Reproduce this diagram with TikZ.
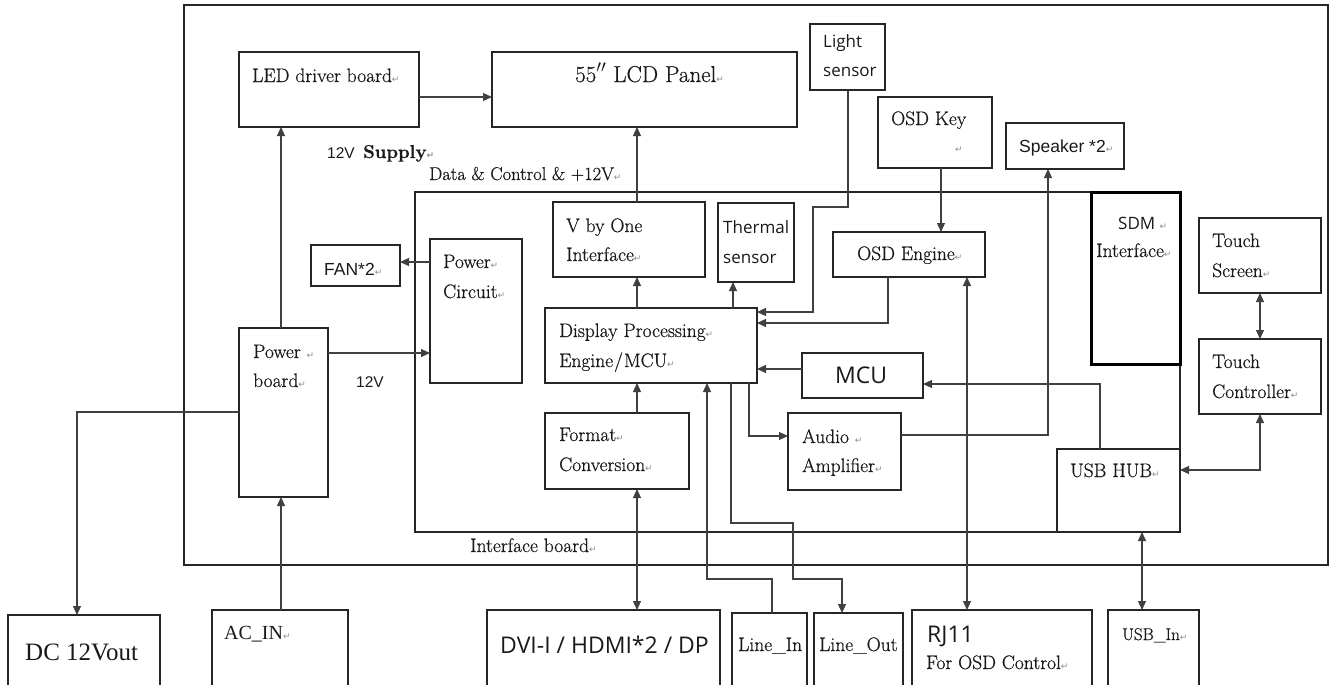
\documentclass[tikz,border=0pt]{standalone}
\usepackage{fontspec}
\setmainfont{Latin Modern Roman}[FakeBold=0.6]
\newfontfamily\osans{Open Sans}
\newfontfamily\lsans{Liberation Sans}
\newfontfamily\lserif{Liberation Serif}
\newfontfamily\dejavu{DejaVu Sans}
\usetikzlibrary{arrows.meta}
\newcommand\rt{{\color{black!45}\dejavu\fontsize{9}{9}\selectfont ↵}}
\newcommand\bx[5]{\node[box, minimum width=#4pt, minimum height=#5pt] (#1) at (#2,#3) {};}
\begin{document}
\begin{tikzpicture}[x=1pt,y=-1pt,
  box/.style={draw=black!85, line width=1.1pt, inner sep=0pt, outer sep=0pt, anchor=north west},
  lnk/.style={draw=black!75, line width=1.1pt},
  arr/.style={lnk, -{Triangle[length=9pt,width=8pt]}},
  darr/.style={lnk, {Triangle[length=9pt,width=8pt]}-{Triangle[length=9pt,width=8pt]}},
  tx/.style={anchor=base west, inner sep=0pt, text=black!90, font=\fontsize{19.5}{24}\selectfont},
  sans/.style={font=\osans\fontsize{17}{20}\selectfont},
  arial/.style={font=\lsans\fontsize{17.5}{20}\selectfont}]
\path[use as bounding box] (0,0) rectangle (1334,685);
\clip (0,0) rectangle (1334,685);
% boxes
\bx{outer}{184}{5}{1144}{560}
\bx{ib}{415}{192}{765}{340}
\bx{led}{239}{52}{180}{75}
\bx{lcd}{492}{52}{305}{75}
\bx{ls}{810}{24}{75}{66}
\bx{ok}{878}{97}{114}{71}
\bx{sp}{1006}{123}{118}{46}
\node[box, line width=3pt, draw=black, minimum width=89pt, minimum height=172pt] (sdm) at (1091,192) {};
\bx{ts}{1199}{218}{122}{75}
\bx{tc}{1199}{339}{122}{75}
\bx{fan}{311}{245}{89}{41}
\bx{pc}{430}{239}{92}{144}
\bx{pb}{239}{328}{89}{169}
\bx{vbo}{553}{202}{152}{75}
\bx{th}{718}{203}{76}{79}
\bx{oe}{833}{232}{152}{45}
\bx{dpe}{545}{308}{212}{75}
\bx{mcu}{802}{353}{121}{45}
\bx{fc}{545}{413}{144}{76}
\bx{aa}{788}{413}{113}{77}
\bx{usb}{1057}{449}{123}{83}
\bx{dc}{8}{615}{152}{85}
\bx{acin}{212}{610}{136}{90}
\bx{dvi}{487}{610}{233}{90}
\bx{li}{732}{613}{75}{87}
\bx{lo}{814}{613}{89}{87}
\bx{rj}{912}{610}{180}{90}
\bx{usbin}{1108}{610}{91}{90}
% connectors
\draw[arr] (led.east |- 0,97) -- (lcd.west |- 0,97);
\draw[arr] (pb.north -| 281,0) -- (led.south -| 281,0);
\draw[arr] (acin.north -| 281,0) -- (pb.south -| 281,0);
\draw[arr] (pb.west |- 0,412) -| (dc.north -| 77,0);
\draw[arr] (pb.east |- 0,353) -- (pc.west |- 0,353);
\draw[arr] (pc.west |- 0,262) -- (fan.east |- 0,262);
\draw[arr] (vbo.north -| 637,0) -- (lcd.south -| 637,0);
\draw[arr] (dpe.north -| 637,0) -- (vbo.south -| 637,0);
\draw[arr] (dpe.north -| 733,0) -- (th.south -| 733,0);
\draw[arr] (ls.south -| 848,0) -- (848,207) -- (813,207) |- (dpe.east |- 0,312);
\draw[arr] (ok.south -| 941,0) -- (oe.north -| 941,0);
\draw[arr] (oe.south -| 888,0) |- (dpe.east |- 0,323);
\draw[darr] (rj.north -| 967,0) -- (oe.south -| 967,0);
\draw[arr] (mcu.west |- 0,369) -- (dpe.east |- 0,369);
\draw[arr] (usb.north -| 1100,0) |- (mcu.east |- 0,384);
\draw[arr] (dpe.south -| 749,0) |- (aa.west |- 0,436);
\draw[arr] (aa.east |- 0,435) -| (sp.south -| 1048,0);
\draw[arr] (fc.north -| 637,0) -- (dpe.south -| 637,0);
\draw[darr] (fc.south -| 637,0) -- (dvi.north -| 637,0);
\draw[arr] (li.north -| 772,0) -- (772,579) -| (dpe.south -| 707,0);
\draw[arr] (dpe.south -| 731,0) -- (731,523) -- (793,523) -- (793,579) -| (lo.north -| 842,0);
\draw[darr] (ts.south -| 1260,0) -- (tc.north -| 1260,0);
\draw[darr] (tc.south -| 1260,0) |- (usb.east |- 0,470);
\draw[darr] (usb.south -| 1142,0) -- (usbin.north -| 1142,0);
% texts
\node[tx] (t-led) at (252,82) {LED driver board\rt};
\node[tx, font=\fontsize{23}{26}\selectfont] (t-lcd) at (575,82) {55$''$ LCD Panel\rt};
\node[tx, sans] (t-ls1) at (823,48) {Light};
\node[tx, sans] (t-ls2) at (823,77) {sensor};
\node[tx] (t-ok1) at (891,125) {OSD Key};
\node[tx] (t-ok2) at (955,152) {\rt};
\node[tx, arial] (t-sp) at (1019,152) {Speaker *2\rt};
\node[tx] (t-vbo1) at (566,232) {V by One};
\node[tx] (t-vbo2) at (566,261) {Interface\rt};
\node[tx, sans] (t-th1) at (723,233) {Thermal};
\node[tx, sans] (t-th2) at (723,263) {sensor};
\node[tx] (t-oe) at (857,260) {OSD Engine\rt};
\node[tx, sans] (t-sdm1) at (1118,229) {SDM \rt};
\node[tx] (t-sdm2) at (1096,257) {Interface\rt};
\node[tx] (t-ts1) at (1212,247) {Touch};
\node[tx] (t-ts2) at (1212,277) {Screen\rt};
\node[tx] (t-tc1) at (1212,368) {Touch};
\node[tx] (t-tc2) at (1212,398) {Controller\rt};
\node[tx, arial] (t-fan) at (324,275) {FAN*2\rt};
\node[tx] (t-pc1) at (443,268) {Power\rt};
\node[tx] (t-pc2) at (443,298) {Circuit\rt};
\node[tx] (t-pb1) at (253,358) {Power \rt};
\node[tx] (t-pb2) at (253,387) {board\rt};
\node[tx, font=\lsans\fontsize{15.5}{18}\selectfont] (t-12v) at (356,387) {12V};
\node[tx] (t-dpe1) at (559,337) {Display Processing\rt};
\node[tx] (t-dpe2) at (559,367) {Engine\kern1pt/\kern1pt MCU\rt};
\node[tx, font=\osans\fontsize{23}{26}\selectfont] (t-mcu) at (835,383) {MCU};
\node[tx] (t-aa1) at (802,443) {Audio \rt};
\node[tx] (t-aa2) at (802,472) {Amplifier\rt};
\node[tx] (t-fc1) at (559,441) {Format\rt};
\node[tx] (t-fc2) at (559,471) {Conversion\rt};
\node[tx] (t-usb) at (1070,477) {USB HUB\rt};
\node[tx, font=\lsans\fontsize{15.5}{18}\selectfont] (t-sup1) at (327,158) {12V};
\node[tx, font=\bfseries\fontsize{18.6}{22}\selectfont] (t-sup2) at (363,158) {Supply\rt};
\node[tx, font=\fontsize{18.5}{22}\selectfont] (t-data) at (429,180) {Data \& Control \& +12V\rt};
\node[tx] (t-ib) at (470,552) {Interface board\rt};
\node[tx, font=\lserif\fontsize{25}{28}\selectfont] (t-dc) at (25,660) {DC 12Vout};
\node[tx, font=\lserif\fontsize{20}{24}\selectfont] (t-ac) at (224,639) {AC\_IN\rt};
\node[tx, font=\osans\fontsize{23}{26}\selectfont] (t-dvi) at (500,653) {DVI-I / HDMI*2 / DP};
\node[tx] (t-li) at (738,651) {Line\_In};
\node[tx] (t-lo) at (819,651) {Line\_Out};
\node[tx, font=\osans\fontsize{23}{26}\selectfont] (t-rj1) at (927,642) {RJ11};
\node[tx] (t-rj2) at (926,669) {For OSD Control\rt};
\node[tx, font=\fontsize{17}{20}\selectfont] (t-usbin) at (1122,640) {USB\_In\rt};
\end{tikzpicture}
\end{document}
